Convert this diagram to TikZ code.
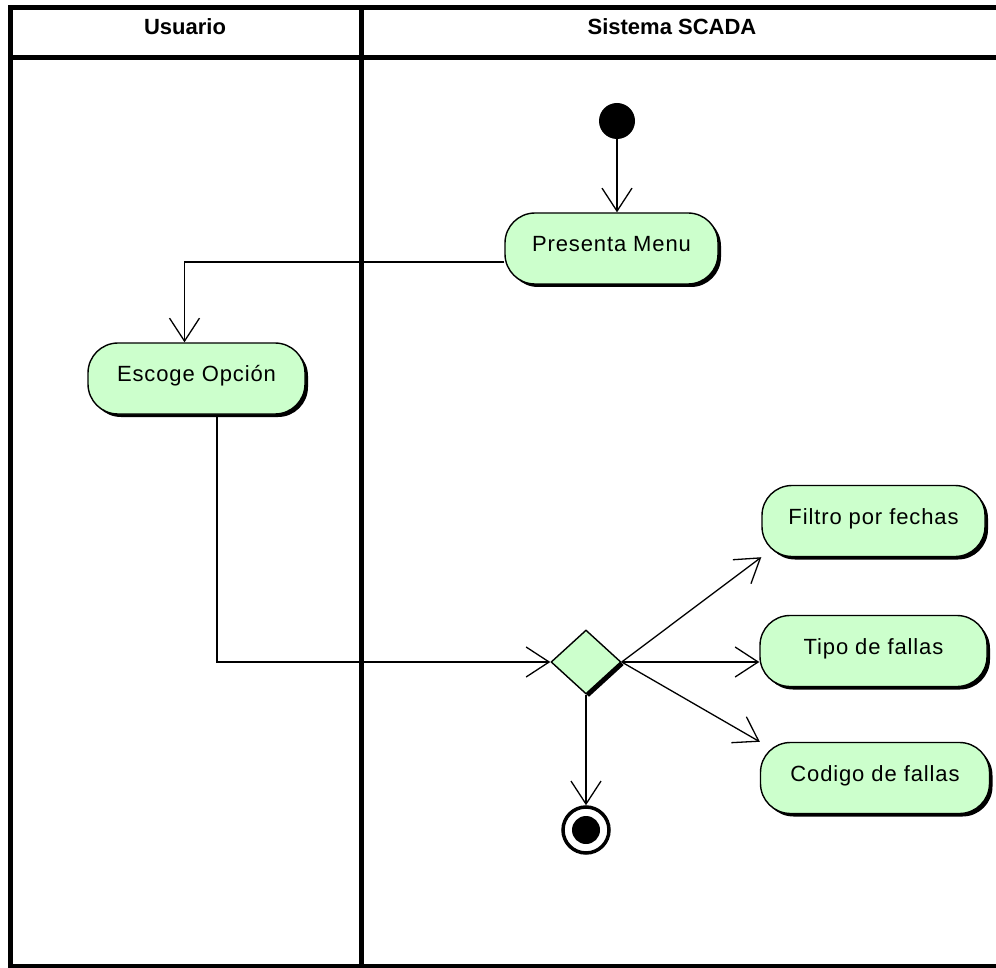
\documentclass[tikz,border=0pt]{standalone}
\usepackage{fontspec}
\setmainfont{Liberation Sans}
\usetikzlibrary{arrows.meta,shapes.geometric,shadows}
\definecolor{actfill}{RGB}{204,255,204}
\begin{document}
\begin{tikzpicture}[x=1pt,y=-1pt,
  laneline/.style={line width=5pt, line cap=rect},
  lanetitle/.style={font=\fontsize{22}{24}\selectfont\bfseries},
  blockshadow/.style={drop shadow={opacity=1, fill=black, shadow xshift=3pt, shadow yshift=-3pt}},
  activity/.style={draw, line width=1.4pt, fill=actfill, rounded corners=30pt,
    inner sep=0pt, minimum height=71pt, text height=16pt, text depth=10pt,
    font=\fontsize{22}{26}\selectfont\addfontfeatures{LetterSpace=4}, blockshadow},
  decision/.style={diamond, draw, line width=1.4pt, fill=actfill, aspect=1,
    inner sep=0pt, minimum width=70pt, minimum height=64pt, blockshadow},
  startdot/.style={circle, fill=black, inner sep=0pt, minimum size=36pt},
  enddot/.style={circle, draw, line width=3.5pt, fill=white, inner sep=0pt, minimum size=46pt},
  enddotcore/.style={circle, fill=black, inner sep=0pt, minimum size=28pt},
  flow/.style={line width=1.3pt, -{Straight Barb[length=23pt,width=30pt]}}
]
\useasboundingbox (0,0) rectangle (996,968);

% swimlane frame
\draw[laneline] (10.5,7.5) -- (996,7.5);
\draw[laneline] (10.5,57.5) -- (996,57.5);
\draw[laneline] (10.5,966) -- (996,966);
\draw[laneline] (10.5,7.5) -- (10.5,966);
\draw[laneline] (361,7.5) -- (361,966);

% lane titles
\node[lanetitle] (tuser) at (185,27) {Usuario};
\node[lanetitle] (tsys) at (672,27) {Sistema SCADA};

% activities
\node[startdot] (init) at (617,121) {};
\node[activity, minimum width=213pt] (menu) at (611.5,248.5) {Presenta Menu};
\node[activity, minimum width=217pt] (escoge) at (196.5,378.5) {Escoge Opción};
\node[decision] (dia) at (586,662) {};
\node[activity, minimum width=223pt] (filtro) at (873.5,521) {Filtro por fechas};
\node[activity, minimum width=227pt] (tipo) at (873.5,651) {Tipo de fallas};
\node[activity, minimum width=229pt] (codigo) at (875,778) {Codigo de fallas};
\node[enddot] (fin) at (586,830) {};
\node[enddotcore] (fincore) at (fin) {};

% transitions
\draw[flow] (init.south) -- (init.south |- menu.north);
\draw[flow] ([yshift=-13.5pt]menu.west) -| ([xshift=-12pt]escoge.north);
\draw[flow] ([xshift=20.5pt]escoge.south) |- (dia.west);
\draw[flow] (dia.east) -- (filtro.south west);
\draw[flow] (dia.east) -- (dia.east -| tipo.west);
\draw[flow] (dia.east) -- (codigo.north west);
\draw[flow] (dia.south) -- (fin.north);
\end{tikzpicture}
\end{document}
